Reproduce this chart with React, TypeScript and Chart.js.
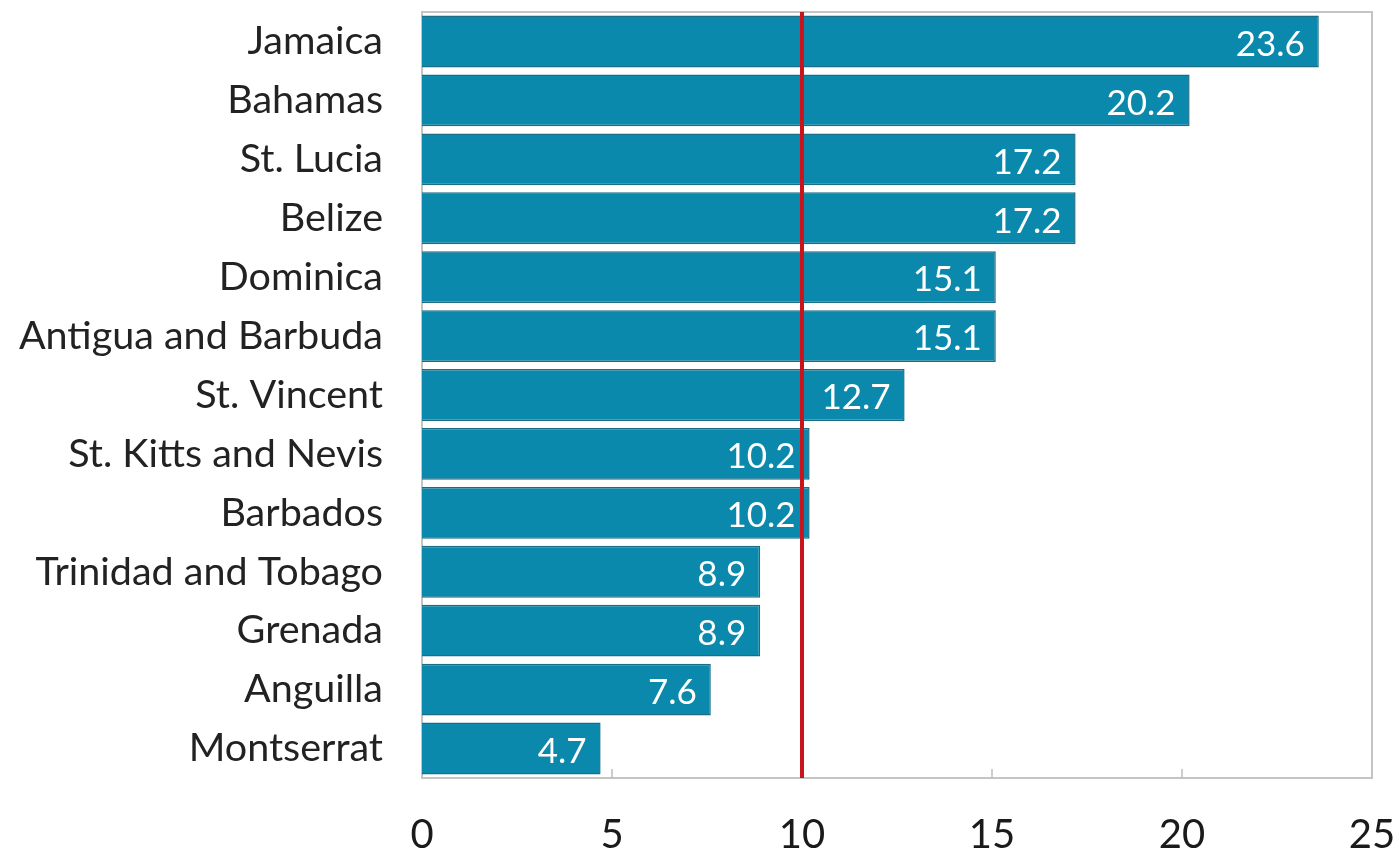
import React, { useEffect, useRef } from "react";
import { Chart, registerables } from "chart.js";

Chart.register(...registerables);

const categories: string[] = [
  "Jamaica",
  "Bahamas",
  "St. Lucia",
  "Belize",
  "Dominica",
  "Antigua and Barbuda",
  "St. Vincent",
  "St. Kitts and Nevis",
  "Barbados",
  "Trinidad and Tobago",
  "Grenada",
  "Anguilla",
  "Montserrat",
];
const values: number[] = [23.6, 20.2, 17.2, 17.2, 15.1, 15.1, 12.7, 10.2, 10.2, 8.9, 8.9, 7.6, 4.7];
const referenceValue = 10;
const xMin = 0;
const xMax = 25;
const xStep = 5;

const FONT = "Lato, 'Noto Sans', sans-serif";

const overlayPlugin = {
  id: "overlay",
  beforeDatasetsDraw(chart: any) {
    const { ctx, chartArea, scales } = chart;
    ctx.save();
    ctx.strokeStyle = "#c4c4c4";
    ctx.lineWidth = 2;
    ctx.strokeRect(chartArea.left, chartArea.top, chartArea.right - chartArea.left, chartArea.bottom - chartArea.top);
    ctx.strokeStyle = "#bdbdbd";
    ctx.lineWidth = 1.5;
    for (let v = xMin + xStep; v < xMax; v += xStep) {
      const px = scales.x.getPixelForValue(v);
      ctx.beginPath();
      ctx.moveTo(px, chartArea.bottom);
      ctx.lineTo(px, chartArea.bottom - 9);
      ctx.stroke();
    }
    ctx.restore();
  },
  afterDatasetsDraw(chart: any) {
    const { ctx, chartArea, scales } = chart;
    const meta = chart.getDatasetMeta(0);
    ctx.save();
    ctx.fillStyle = "#ffffff";
    ctx.font = `35px ${FONT}`;
    ctx.textAlign = "right";
    ctx.textBaseline = "middle";
    meta.data.forEach((bar: any, i: number) => {
      ctx.fillText(values[i].toFixed(1), bar.x - 14, bar.y + 3);
    });
    const px = scales.x.getPixelForValue(referenceValue);
    ctx.strokeStyle = "#c8141c";
    ctx.lineWidth = 4;
    ctx.beginPath();
    ctx.moveTo(px, chartArea.top);
    ctx.lineTo(px, chartArea.bottom);
    ctx.stroke();
    ctx.restore();
  },
};

export default function App() {
  const ref = useRef<HTMLCanvasElement | null>(null);
  useEffect(() => {
    document.body.style.margin = "0";
    const canvas = ref.current!;
    const chart = new Chart(canvas, {
      type: "bar",
      data: {
        labels: categories,
        datasets: [
          {
            data: values,
            backgroundColor: "#0b89ad",
            borderColor: "#1a6d85",
            borderWidth: 1.5,
            barPercentage: 0.88,
            categoryPercentage: 1,
          },
        ],
      },
      options: {
        indexAxis: "y",
        responsive: false,
        animation: false,
        layout: { padding: { top: 12, right: 26, left: 0, bottom: 0 } },
        plugins: { legend: { display: false }, tooltip: { enabled: false } },
        scales: {
          x: {
            min: xMin,
            max: xMax,
            ticks: {
              stepSize: xStep,
              color: "#1a1a1a",
              font: { family: FONT, size: 40 },
              padding: 25,
              maxRotation: 0,
            },
            grid: { display: false },
            border: { display: false },
            afterFit(scale: any) {
              scale.height = 78;
              scale.paddingLeft = 0;
              scale.paddingRight = 0;
            },
          },
          y: {
            ticks: {
              color: "#222222",
              font: { family: FONT, size: 39.5 },
              padding: 31,
              autoSkip: false,
            },
            grid: { display: false },
            border: { display: false },
            afterFit(scale: any) {
              scale.width = 422;
              scale.paddingTop = 0;
              scale.paddingBottom = 0;
            },
          },
        },
      },
      plugins: [overlayPlugin],
    } as any);
    return () => chart.destroy();
  }, []);
  return (
    <div style={{ position: "absolute", left: 0, top: 0, width: 1398, height: 856, background: "#fff" }}>
      <canvas ref={ref} width={1398} height={856} />
    </div>
  );
}
